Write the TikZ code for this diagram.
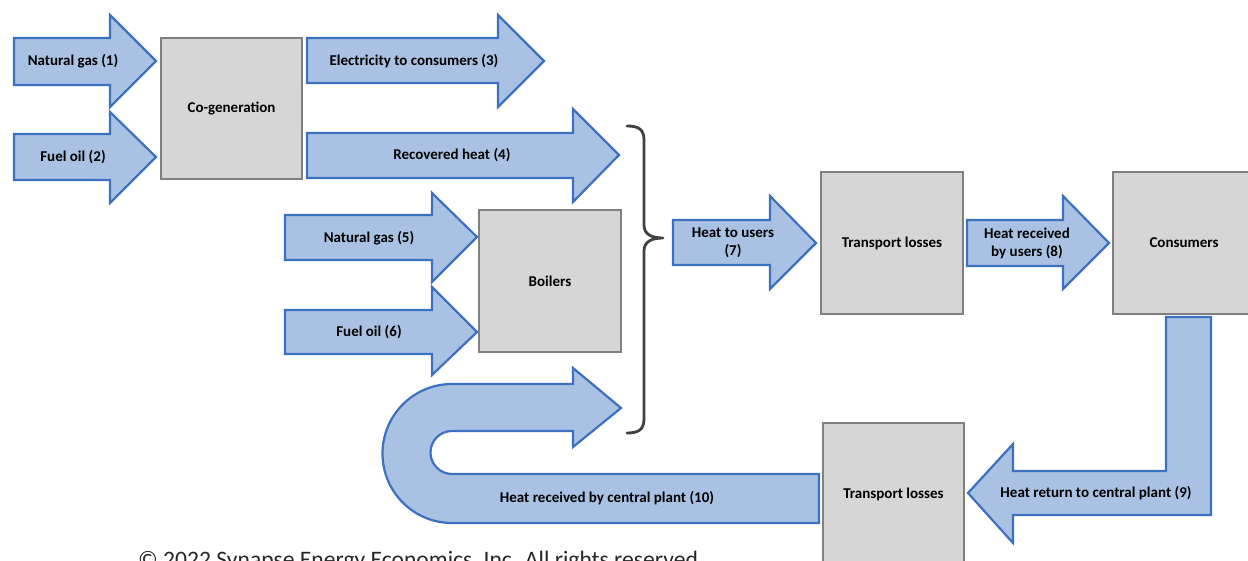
\documentclass[tikz,border=0pt]{standalone}
\usepackage{fontspec}
\setmainfont{Carlito}
\definecolor{af}{RGB}{169,194,228}
\definecolor{al}{RGB}{62,112,192}
\definecolor{bf}{RGB}{214,214,214}
\definecolor{bl}{RGB}{128,128,128}
\definecolor{br}{RGB}{64,64,64}
\newcommand\rarrowpath[8]{%
  \draw[flow] (#1,#4) -- (#2,#4) -- (#2,#6) -- (#3,#8) -- (#2,#7) -- (#2,#5) -- (#1,#5) -- cycle;}
\begin{document}
\begin{tikzpicture}[x=1pt,y=-1pt,
  flow/.style={fill=af,draw=al,line width=2.2pt,line join=miter},
  box/.style={fill=bf,draw=bl,line width=2.5pt,minimum width=141pt,minimum height=141pt,inner sep=0pt,font=\bfseries\fontsize{15}{18}\selectfont},
  lbl/.style={font=\bfseries\fontsize{15}{18}\selectfont,align=center,inner sep=0pt},
  bracestyle/.style={draw=br,line width=2.8pt,line cap=round,line join=round}]
\useasboundingbox (0,0) rectangle (1248,561);
\clip (0,0) rectangle (1248,561);

% straight block arrows
\rarrowpath{14}{110}{156}{38}{85}{15}{107}{61}
\rarrowpath{14}{110}{156}{134}{180}{112}{203}{157}
\rarrowpath{307}{498}{544}{38}{83}{15}{107}{61}
\rarrowpath{307}{573}{619}{133}{178}{109}{202}{155}
\rarrowpath{285}{432}{477}{215}{260}{193}{282}{237}
\rarrowpath{285}{432}{477}{310}{354}{287}{375}{332}
\rarrowpath{673}{770}{816}{220}{265}{196}{289}{243}
\rarrowpath{967}{1063}{1109}{220}{266}{196}{289}{243}

% U-turn arrow (10)
\draw[flow] (819,474) -- (452,474)
  .. controls (440.1,474) and (430.5,464.4) .. (430.5,452.5)
  .. controls (430.5,440.6) and (440.1,431) .. (452,431)
  -- (573,431) -- (573,447) -- (621,408) -- (573,368) -- (573,384) -- (452,384)
  .. controls (413.6,384) and (382.5,415.1) .. (382.5,453.5)
  .. controls (382.5,491.9) and (413.6,523) .. (452,523)
  -- (819,523) -- cycle;

% boxes
\node[box] (cogen) at (231.5,108.5) {Co-generation};
\node[box,minimum width=142pt,minimum height=142pt] (boil) at (550,281) {Boilers};
\node[box,minimum width=142pt,minimum height=142pt] (tl1) at (892,243) {Transport losses};
\node[box,minimum width=142pt,minimum height=142pt] (cons) at (1184,243) {Consumers};
\node[box,minimum width=141pt,minimum height=142pt] (tl2) at (893.5,494) {Transport losses};

% L-shaped return arrow (9)
\draw[flow] (1166,317) -- (1211,317) -- (1211,515) -- (1013,515) -- (1013,543)
  -- (968,493) -- (1013,444) -- (1013,471) -- (1166,471) -- cycle;

% brace
\draw[bracestyle] (627,126) .. controls (638,126) and (644,129) .. (644,140) -- (644,225)
  .. controls (644,234) and (651,238) .. (663,238)
  .. controls (651,238) and (644,242) .. (644,251) -- (644,419)
  .. controls (644,430) and (638,433) .. (627,433);

% labels
\node[lbl] (l1) at (73,61) {Natural gas (1)};
\node[lbl] (l2) at (73,157) {Fuel oil (2)};
\node[lbl] (l3) at (414,61) {Electricity to consumers (3)};
\node[lbl] (l4) at (452,155) {Recovered heat (4)};
\node[lbl] (l5) at (369,238) {Natural gas (5)};
\node[lbl] (l6) at (369,332) {Fuel oil (6)};
\node[lbl] (l7) at (733,243) {Heat to users\\(7)};
\node[lbl] (l8) at (1027,243) {Heat received\\by users (8)};
\node[lbl] (l9) at (1096,493) {Heat return to central plant (9)};
\node[lbl] (l10) at (607,498) {Heat received by central plant (10)};

% copyright (cut off at the bottom, as in the reference)
\node[anchor=base west,inner sep=0pt,font=\fontsize{23.6}{28}\selectfont,text=black!85] (copy) at (138,567.5)
  {© 2022 Synapse Energy Economics, Inc. All rights reserved.};
\end{tikzpicture}
\end{document}
